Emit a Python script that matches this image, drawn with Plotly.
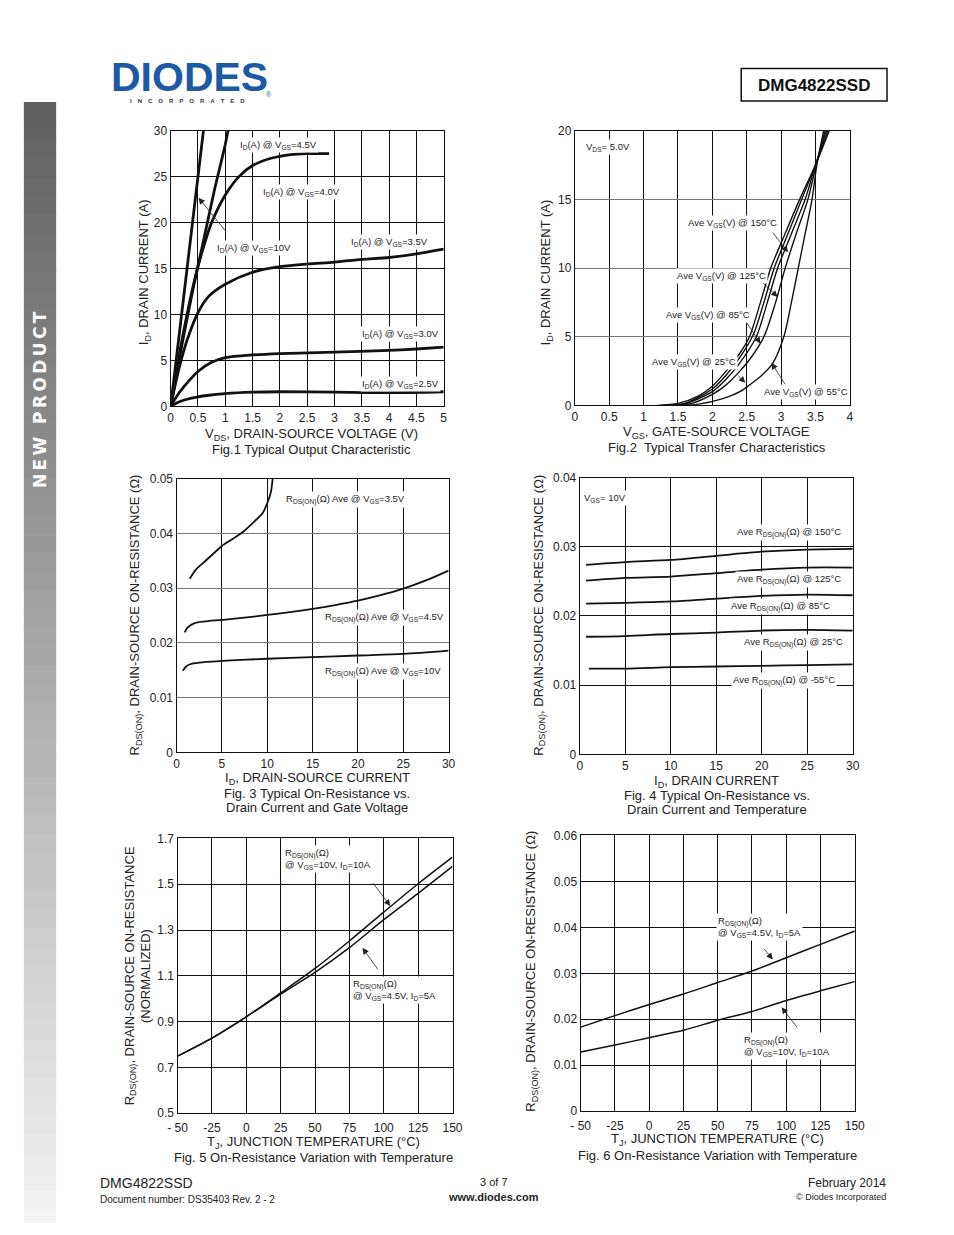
import plotly.graph_objects as go

# page is 954x1235; the browser body keeps an 8px margin, so the figure is drawn
# slightly smaller and every page pixel is shifted by that margin
PAGE_W, PAGE_H = 954, 1235
OFF = 8
W, H = 936, 1215

# ---------------- DATA ----------------
# Fig.1 Typical Output Characteristic (VDS [V], ID [A])
f1_vds_10v = [0, 0.1, 0.2, 0.3, 0.4, 0.5, 0.6, 0.65]
f1_id_10v = [0, 5, 10, 15, 20, 25, 30, 32.5]
f1_vds_45v = [0, 0.2, 0.4, 0.6, 0.8, 1.0, 1.05, 1.1]
f1_id_45v = [0, 6.5, 12.5, 18, 23.5, 28.5, 30, 31.5]
f1_vds_40v = [0, 0.1, 0.2, 0.3, 0.4, 0.5, 0.6, 0.75, 1.0, 1.25, 1.5, 1.84, 2.2, 2.5, 2.9]
f1_id_40v = [0, 3.5, 7, 10, 12.8, 15.2, 17.3, 20, 23, 25, 26.2, 27, 27.4, 27.5, 27.5]
f1_vds_35v = [0, 0.1, 0.2, 0.3, 0.5, 0.7, 1.0, 1.5, 2.0, 2.5, 3.0, 3.5, 4.0, 4.5, 5.0]
f1_id_35v = [0, 2.8, 5.2, 7.2, 10.2, 12.0, 13.3, 14.6, 15.2, 15.5, 15.7, 16.0, 16.2, 16.6, 17.1]
f1_vds_30v = [0, 0.1, 0.25, 0.5, 0.75, 1.0, 1.5, 2.0, 3.0, 4.0, 4.5, 5.0]
f1_id_30v = [0, 1.0, 2.2, 3.8, 4.8, 5.3, 5.6, 5.75, 5.9, 6.1, 6.25, 6.45]
f1_vds_25v = [0, 0.1, 0.25, 0.5, 0.75, 1.0, 1.5, 2.0, 3.0, 4.0, 5.0]
f1_id_25v = [0, 0.35, 0.7, 1.05, 1.25, 1.4, 1.55, 1.6, 1.55, 1.5, 1.6]

# Fig.2 Typical Transfer Characteristics (VGS [V], ID [A])
f2_vgs_150 = [1.2, 1.5, 1.8, 2.0, 2.2, 2.4, 2.54, 2.7, 2.85, 3.05, 3.27, 3.5, 3.7]
f2_id_150 = [0, 0.15, 0.7, 1.4, 2.5, 3.8, 5.0, 7.5, 10, 12.4, 15, 17.5, 20]
f2_vgs_125 = [1.25, 1.6, 2.0, 2.2, 2.4, 2.6, 2.75, 2.9, 3.1, 3.3, 3.5, 3.68]
f2_id_125 = [0, 0.15, 1.2, 2.2, 3.5, 5.2, 7.5, 10, 12.5, 15, 17.5, 20]
f2_vgs_85 = [1.3, 1.6, 2.0, 2.2, 2.4, 2.64, 2.8, 2.95, 3.15, 3.35, 3.5, 3.66]
f2_id_85 = [0, 0.12, 1.0, 1.9, 3.1, 5.0, 7.5, 10, 12.5, 15, 17.5, 20]
f2_vgs_25 = [1.35, 1.7, 2.0, 2.2, 2.4, 2.55, 2.75, 2.92, 3.06, 3.22, 3.39, 3.51, 3.64]
f2_id_25 = [0, 0.15, 0.8, 1.5, 2.5, 3.4, 5.0, 7.5, 10, 12.5, 15, 17.5, 20]
f2_vgs_m55 = [1.5, 1.8, 2.14, 2.4, 2.56, 2.72, 2.87, 3.04, 3.15, 3.25, 3.35, 3.45, 3.52, 3.62]
f2_id_m55 = [0, 0.1, 0.48, 1.0, 1.56, 2.2, 3.0, 5.0, 7.5, 10, 12.5, 15, 17.5, 20]

# Fig.3 On-resistance vs drain current and gate voltage (ID [A], RDS [ohm])
f3_id_35v = [1.45, 2.2, 3.2, 4.2, 5.0, 6.0, 7.2, 8.6, 9.5, 10.0, 10.4, 10.6]
f3_r_35v = [0.0317, 0.0335, 0.035, 0.0365, 0.0377, 0.0388, 0.0401, 0.0422, 0.0437, 0.0455, 0.0475, 0.05]
f3_id_45v = [0.9, 1.2, 2, 3, 5, 7.5, 10, 12.5, 15, 17.5, 20, 22.5, 25, 27.5, 30]
f3_r_45v = [0.0219, 0.0228, 0.0236, 0.0239, 0.0242, 0.0246, 0.0251, 0.0256, 0.0262, 0.0269, 0.0277, 0.0287, 0.0299, 0.0314, 0.0332]
f3_id_10v = [0.7, 1.0, 1.5, 2.5, 5, 10, 15, 20, 25, 30]
f3_r_10v = [0.0149, 0.0156, 0.0161, 0.0164, 0.0167, 0.0171, 0.0174, 0.0177, 0.018, 0.0186]

# Fig.4 On-resistance vs drain current and temperature (ID [A], RDS [ohm])
f4_id = [0.7, 5, 10, 15, 20, 25, 30]
f4_r_150 = [0.0274, 0.0278, 0.0281, 0.0287, 0.0293, 0.0296, 0.0297]
f4_r_125 = [0.0251, 0.0255, 0.0257, 0.0262, 0.0267, 0.0270, 0.0270]
f4_r_85 = [0.0218, 0.0219, 0.0221, 0.0225, 0.0229, 0.0231, 0.0230]
f4_r_25 = [0.0170, 0.0171, 0.0174, 0.0176, 0.0179, 0.0180, 0.0179]
f4_id_m55 = [1.0, 5, 10, 15, 20, 25, 30]
f4_r_m55 = [0.0124, 0.0124, 0.0126, 0.0127, 0.0128, 0.0129, 0.0130]

# Fig.5 Normalized on-resistance vs junction temperature (TJ [C], normalized)
f5_tj = [-50, -25, 0, 25, 50, 75, 100, 125, 150]
f5_r_10v = [0.749, 0.828, 0.921, 1.025, 1.132, 1.252, 1.378, 1.502, 1.618]
f5_r_45v = [0.749, 0.828, 0.921, 1.020, 1.115, 1.223, 1.345, 1.460, 1.578]

# Fig.6 On-resistance vs junction temperature (TJ [C], RDS [ohm])
f6_tj = [-50, -25, 0, 25, 50, 75, 100, 125, 150]
f6_r_45v = [0.0183, 0.0208, 0.0232, 0.0255, 0.0280, 0.0305, 0.0334, 0.0363, 0.0392]
f6_r_10v = [0.0129, 0.0144, 0.0160, 0.0176, 0.0198, 0.0217, 0.0241, 0.0262, 0.0282]

# Tick labels
f1_xticks = [0, 0.5, 1, 1.5, 2, 2.5, 3, 3.5, 4, 4.5, 5]
f1_xtext = ["0", "0.5", "1", "1.5", "2", "2.5", "3", "3.5", "4", "4.5", "5"]
f1_yticks = [0, 5, 10, 15, 20, 25, 30]
f2_xticks = [0, 0.5, 1, 1.5, 2, 2.5, 3, 3.5, 4]
f2_xtext = ["0", "0.5", "1", "1.5", "2", "2.5", "3", "3.5", "4"]
f2_yticks = [0, 5, 10, 15, 20]
f34_xticks = [0, 5, 10, 15, 20, 25, 30]
f3_yticks = [0, 0.01, 0.02, 0.03, 0.04, 0.05]
f3_ytext = ["0", "0.01", "0.02", "0.03", "0.04", "0.05"]
f4_yticks = [0, 0.01, 0.02, 0.03, 0.04]
f4_ytext = ["0", "0.01", "0.02", "0.03", "0.04"]
f56_xticks = [-50, -25, 0, 25, 50, 75, 100, 125, 150]
f56_xtext = ["- 50", "-25", "0", "25", "50", "75", "100", "125", "150"]
f5_yticks = [0.5, 0.7, 0.9, 1.1, 1.3, 1.5, 1.7]
f5_ytext = ["0.5", "0.7", "0.9", "1.1", "1.3", "1.5", "1.7"]
f6_yticks = [0, 0.01, 0.02, 0.03, 0.04, 0.05, 0.06]
f6_ytext = ["0", "0.01", "0.02", "0.03", "0.04", "0.05", "0.06"]

# ---------------- LAYOUT HELPERS ----------------
FONT = "Liberation Sans, Arial, sans-serif"


def dx(px):
    return (px - OFF) / W


def dy(py):
    return 1 - (py - OFF) / H


fig = go.Figure()

# plot areas in page pixels: (x0, x1, y0top, y1bottom)
areas = {
    1: (164, 443, 125, 404),
    2: (577, 858, 125, 403),
    3: (170, 448, 477, 754),
    4: (582, 861, 476, 756),
    5: (171, 452, 841, 1119),
    6: (583, 863, 838, 1117),
}


def add_line(i, x, y, width=1.6, shape="spline"):
    ax = "" if i == 1 else str(i)
    fig.add_trace(go.Scatter(x=x, y=y, mode="lines", xaxis="x" + ax, yaxis="y" + ax,
                             line=dict(color="#111111", width=width, shape=shape, smoothing=0.8),
                             hoverinfo="skip", showlegend=False))


add_line(1, f1_vds_10v, f1_id_10v, 2.8, "linear")
add_line(1, f1_vds_45v, f1_id_45v, 2.8)
add_line(1, f1_vds_40v, f1_id_40v, 2.8)
add_line(1, f1_vds_35v, f1_id_35v, 2.8)
add_line(1, f1_vds_30v, f1_id_30v, 2.8)
add_line(1, f1_vds_25v, f1_id_25v, 2.8)

add_line(2, f2_vgs_150, f2_id_150, 1.4)
add_line(2, f2_vgs_125, f2_id_125, 1.4)
add_line(2, f2_vgs_85, f2_id_85, 1.4)
add_line(2, f2_vgs_25, f2_id_25, 1.4)
add_line(2, f2_vgs_m55, f2_id_m55, 1.4)

add_line(3, f3_id_35v, f3_r_35v, 1.8)
add_line(3, f3_id_45v, f3_r_45v, 1.8)
add_line(3, f3_id_10v, f3_r_10v, 1.8)

add_line(4, f4_id, f4_r_150, 1.8)
add_line(4, f4_id, f4_r_125, 1.8)
add_line(4, f4_id, f4_r_85, 1.8)
add_line(4, f4_id, f4_r_25, 1.8)
add_line(4, f4_id_m55, f4_r_m55, 1.8)

add_line(5, f5_tj, f5_r_10v, 1.5)
add_line(5, f5_tj, f5_r_45v, 1.5)

add_line(6, f6_tj, f6_r_45v, 1.5)
add_line(6, f6_tj, f6_r_10v, 1.5)

axis_specs = {
    1: dict(x=dict(range=[0, 5], tickvals=f1_xticks, ticktext=f1_xtext),
            y=dict(range=[0, 30], tickvals=f1_yticks), ygrid="#111111"),
    2: dict(x=dict(range=[0, 4], tickvals=f2_xticks, ticktext=f2_xtext),
            y=dict(range=[0, 20], tickvals=f2_yticks), ygrid="#777777"),
    3: dict(x=dict(range=[0, 30], tickvals=f34_xticks),
            y=dict(range=[0, 0.05], tickvals=f3_yticks, ticktext=f3_ytext), ygrid="#777777"),
    4: dict(x=dict(range=[0, 30], tickvals=f34_xticks),
            y=dict(range=[0, 0.04], tickvals=f4_yticks, ticktext=f4_ytext), ygrid="#111111"),
    5: dict(x=dict(range=[-50, 150], tickvals=f56_xticks, ticktext=f56_xtext, ticklabelstandoff=3),
            y=dict(range=[0.5, 1.7], tickvals=f5_yticks, ticktext=f5_ytext), ygrid="#111111"),
    6: dict(x=dict(range=[-50, 150], tickvals=f56_xticks, ticktext=f56_xtext, ticklabelstandoff=3),
            y=dict(range=[0, 0.06], tickvals=f6_yticks, ticktext=f6_ytext), ygrid="#111111"),
}

layout = dict(width=W, height=H, margin=dict(l=0, r=0, t=0, b=0),
              paper_bgcolor="white", plot_bgcolor="white",
              font=dict(family=FONT, color="#222222", size=12),
              showlegend=False)

for i, (x0, x1, yt, yb) in areas.items():
    k = "" if i == 1 else str(i)
    spec = axis_specs[i]
    common = dict(showline=True, mirror=True, linecolor="#111111", linewidth=1.2,
                  showgrid=True, gridwidth=1, zeroline=False, ticks="",
                  tickfont=dict(size=12, family=FONT, color="#222222"), fixedrange=True)
    xa = dict(common, domain=[dx(x0), dx(x1)], anchor="y" + k, gridcolor="#111111", **spec["x"])
    ya = dict(common, domain=[dy(yb), dy(yt)], anchor="x" + k, gridcolor=spec["ygrid"], **spec["y"])
    layout["xaxis" + k] = xa
    layout["yaxis" + k] = ya

fig.update_layout(**layout)

anns = []
shapes = []


def page_text(text, px, py, size=13, xanchor="center", yanchor="middle", angle=0,
              bold=False, color="#222222", family=FONT):
    if bold:
        text = "<b>" + text + "</b>"
    anns.append(dict(text=text, x=dx(px), y=dy(py), xref="paper", yref="paper",
                     xanchor=xanchor, yanchor=yanchor, textangle=angle, showarrow=False,
                     font=dict(size=size, color=color, family=family)))


def label(i, text, x, y, xanchor="left", size=9.5, align="left"):
    k = "" if i == 1 else str(i)
    anns.append(dict(text=text, x=x, y=y, xref="x" + k, yref="y" + k, xanchor=xanchor,
                     yanchor="middle", showarrow=False, bgcolor="white", borderpad=1,
                     align=align, font=dict(size=size, color="#222222", family=FONT)))


def arrow(i, x_from, y_from, x_to, y_to):
    k = "" if i == 1 else str(i)
    anns.append(dict(text="", x=x_to, y=y_to, ax=x_from, ay=y_from, xref="x" + k, yref="y" + k,
                     axref="x" + k, ayref="y" + k, showarrow=True, arrowhead=2, arrowsize=1.6,
                     arrowwidth=0.8, arrowcolor="#222222"))


# --- Fig.1 labels
label(1, "I<sub>D</sub>(A) @ V<sub>GS</sub>=4.5V", 1.24, 28.4)
label(1, "I<sub>D</sub>(A) @ V<sub>GS</sub>=4.0V", 1.65, 23.3)
label(1, "I<sub>D</sub>(A) @ V<sub>GS</sub>=10V", 0.81, 17.2)
label(1, "I<sub>D</sub>(A) @ V<sub>GS</sub>=3.5V", 3.26, 17.85)
label(1, "I<sub>D</sub>(A) @ V<sub>GS</sub>=3.0V", 3.46, 7.85)
label(1, "I<sub>D</sub>(A) @ V<sub>GS</sub>=2.5V", 3.46, 2.47)
arrow(1, 1.03, 18.9, 0.51, 22.7)

# --- Fig.2 labels
label(2, "V<sub>DS</sub>= 5.0V", 0.14, 18.8)
label(2, "Ave V<sub>GS</sub>(V) @ 150°C", 1.62, 13.3)
label(2, "Ave V<sub>GS</sub>(V) @ 125°C", 1.45, 9.4)
label(2, "Ave V<sub>GS</sub>(V) @ 85°C", 1.30, 6.6)
label(2, "Ave V<sub>GS</sub>(V) @ 25°C", 1.10, 3.17)
label(2, "Ave V<sub>GS</sub>(V) @ 55°C", 2.72, 1.0)
arrow(2, 2.86, 12.7, 3.10, 11.15)
arrow(2, 2.72, 9.0, 2.95, 7.9)
arrow(2, 2.49, 6.1, 2.70, 4.5)
arrow(2, 2.35, 2.3, 2.48, 1.65)
arrow(2, 3.07, 1.44, 2.86, 3.1)

# --- Fig.3 labels
label(3, "R<sub>DS(ON)</sub>(Ω) Ave @ V<sub>GS</sub>=3.5V", 11.87, 0.0462)
label(3, "R<sub>DS(ON)</sub>(Ω) Ave @ V<sub>GS</sub>=4.5V", 16.2, 0.0247)
label(3, "R<sub>DS(ON)</sub>(Ω) Ave @ V<sub>GS</sub>=10V", 16.2, 0.0148)

# --- Fig.4 labels
label(4, "V<sub>GS</sub>= 10V", 0.2, 0.0371)
label(4, "Ave R<sub>DS(ON)</sub>(Ω) @ 150°C", 28.9, 0.0320, xanchor="right")
label(4, "Ave R<sub>DS(ON)</sub>(Ω) @ 125°C", 28.9, 0.0253, xanchor="right")
label(4, "Ave R<sub>DS(ON)</sub>(Ω) @ 85°C", 27.7, 0.0213, xanchor="right")
label(4, "Ave R<sub>DS(ON)</sub>(Ω) @ 25°C", 29.1, 0.0161, xanchor="right")
label(4, "Ave R<sub>DS(ON)</sub>(Ω) @ -55°C", 28.3, 0.0107, xanchor="right")

# --- Fig.5 labels
label(5, "R<sub>DS(ON)</sub>(Ω)<br>@ V<sub>GS</sub>=10V, I<sub>D</sub>=10A", 26.9, 1.612)
label(5, "R<sub>DS(ON)</sub>(Ω)<br>@ V<sub>GS</sub>=4.5V, I<sub>D</sub>=5A", 76, 1.04)
arrow(5, 91.6, 1.51, 104.7, 1.405)
arrow(5, 96.4, 1.122, 84.5, 1.222)

# --- Fig.6 labels
label(6, "R<sub>DS(ON)</sub>(Ω)<br>@ V<sub>GS</sub>=4.5V, I<sub>D</sub>=5A", 48.6, 0.040)
label(6, "R<sub>DS(ON)</sub>(Ω)<br>@ V<sub>GS</sub>=10V, I<sub>D</sub>=10A", 67.9, 0.0141)
arrow(6, 83.1, 0.0356, 90.2, 0.0330)
arrow(6, 108.6, 0.0180, 96.6, 0.0226)

# --- axis titles and captions
page_text("V<sub>DS</sub>, DRAIN-SOURCE VOLTAGE (V)", 308, 432)
page_text("Fig.1 Typical Output Characteristic", 308, 448)
page_text("I<sub>D</sub>, DRAIN CURRENT (A)", 137, 268, angle=-90)

page_text("V<sub>GS</sub>, GATE-SOURCE VOLTAGE", 722, 430)
page_text("Fig.2  Typical Transfer Characteristics", 722, 446)
page_text("I<sub>D</sub>, DRAIN CURRENT (A)", 548, 268, angle=-90)

page_text("I<sub>D</sub>, DRAIN-SOURCE CURRENT", 314, 780)
page_text("Fig. 3 Typical On-Resistance vs.", 314, 796)
page_text("Drain Current and Gate Voltage", 314, 810)
page_text("R<sub>DS(ON)</sub>, DRAIN-SOURCE ON-RESISTANCE (Ω)", 128, 615, angle=-90)

page_text("I<sub>D</sub>, DRAIN CURRENT", 722, 783)
page_text("Fig. 4 Typical On-Resistance vs.", 722, 798)
page_text("Drain Current and Temperature", 722, 812)
page_text("R<sub>DS(ON)</sub>, DRAIN-SOURCE ON-RESISTANCE (Ω)", 540, 615, angle=-90)

page_text("T<sub>J</sub>, JUNCTION TEMPERATURE (°C)", 310, 1149)
page_text("Fig. 5 On-Resistance Variation with Temperature", 310, 1164)
page_text("R<sub>DS(ON)</sub>, DRAIN-SOURCE ON-RESISTANCE", 123, 980, angle=-90)
page_text("(NORMALIZED)", 139, 980, angle=-90)

page_text("T<sub>J</sub>, JUNCTION TEMPERATURE (°C)", 723, 1146)
page_text("Fig. 6 On-Resistance Variation with Temperature", 723, 1162)
page_text("R<sub>DS(ON)</sub>, DRAIN-SOURCE ON-RESISTANCE (Ω)", 533, 975, angle=-90)

# --- header
page_text("DIODES", 183, 71, size=41, bold=True, color="#1c5aa5")
page_text("\u2003".join("INCORPORATED"), 181, 95, size=6, bold=True, color="#333333")
page_text("®", 264, 88, size=7, color="#1c5aa5")
shapes.append(dict(type="rect", xref="paper", yref="paper", x0=dx(747), x1=dx(896), y0=dy(95), y1=dy(62),
                   line=dict(color="#111111", width=1.5), fillcolor="rgba(0,0,0,0)"))
page_text("DMG4822SSD", 821, 79, size=17, bold=True, color="#111111")

# --- side bar with gradient
n_steps = 60
top, bottom = 96, 1235
for s in range(n_steps):
    t = s / (n_steps - 1)
    c = int(0x60 + t * (0xf4 - 0x60))
    y0p = top + (bottom - top) * s / n_steps
    y1p = top + (bottom - top) * (s + 1) / n_steps + 1
    shapes.append(dict(type="rect", xref="paper", yref="paper", x0=dx(14), x1=dx(47),
                       y0=dy(y1p), y1=dy(y0p), line=dict(width=0),
                       fillcolor="rgb(%d,%d,%d)" % (c, c, c), layer="below"))
page_text("\u2009".join("NEW PRODUCT"), 30, 397, size=17, bold=True, color="white", angle=-90,
          family="DejaVu Sans, sans-serif")

# --- footer
page_text("DMG4822SSD", 90, 1190, size=14, xanchor="left")
page_text("Document number: DS35403 Rev. 2 - 2", 90, 1206, size=10, xanchor="left")
page_text("3 of 7", 494, 1189, size=11)
page_text("www.diodes.com", 494, 1204, size=11, bold=True)
page_text("February 2014", 897, 1190, size=12, xanchor="right")
page_text("© Diodes Incorporated", 897, 1204, size=9, xanchor="right")

fig.update_layout(annotations=anns, shapes=shapes)

fig.write_html("out.html", config={"displayModeBar": False})
